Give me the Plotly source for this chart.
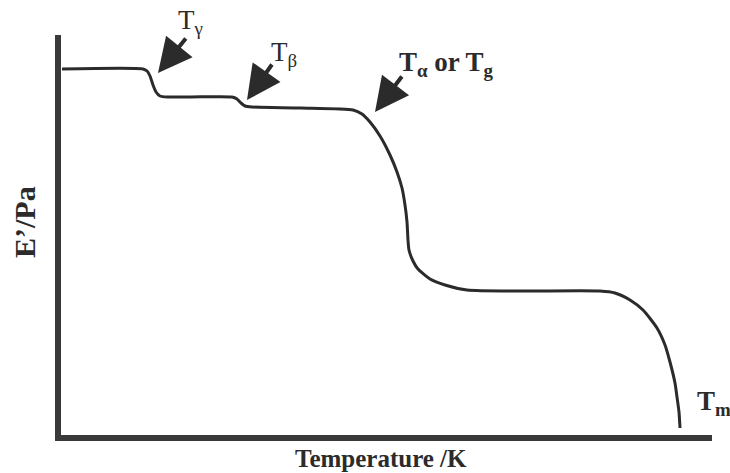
import plotly.graph_objects as go

# Curve (arbitrary temperature units, arbitrary modulus units)
temperature = [1, 82, 86, 89, 92, 95, 99, 107, 130, 171, 176, 180, 184, 191, 240, 292,
               301, 309, 319, 329, 336, 341, 344, 346, 347, 348, 352, 357, 369, 384,
               406, 459, 539, 554, 569, 582, 596, 604, 609, 614, 616, 618, 619]
modulus = [366, 366, 364, 359, 350, 343, 339, 338, 338, 338, 336, 332, 329, 328, 327, 325,
           321, 313, 299, 280, 263, 247, 230, 213, 195, 185, 174, 166, 156, 150,
           145, 144, 144, 142, 135, 125, 107, 90, 73, 52, 38, 23, 7]

# Transition markers: arrow tips and tails
arrow_tip_x = [97, 186, 314]
arrow_tip_y = [362, 335, 323]
arrow_tail_x = [126, 212, 342]
arrow_tail_y = [398, 372, 360]

W, H = 730, 473
L, R, T, B = 61, 18, 35, 38
PW, PH = W - L - R, H - T - B

def px(x):
    return (x - L) / PW

def py(y):
    return (H - B - y) / PH

ink = "#2b2b2b"
serif = "Liberation Serif, Times New Roman, serif"

fig = go.Figure()
fig.add_trace(go.Scatter(
    x=temperature, y=modulus, mode="lines",
    line=dict(color=ink, width=3, shape="spline", smoothing=0.6),
    hoverinfo="skip", showlegend=False,
))

annotations = []
for tx, ty, ax_, ay_ in zip(arrow_tip_x, arrow_tip_y, arrow_tail_x, arrow_tail_y):
    annotations.append(dict(
        x=tx, y=ty, ax=ax_, ay=ay_, xref="x", yref="y", axref="x", ayref="y",
        text="", showarrow=True, arrowhead=2, arrowsize=1.7, arrowwidth=4,
        arrowcolor=ink, standoff=0,
    ))

labels = [
    ("T<sub>γ</sub>", 176, 22, False),
    ("T<sub>β</sub>", 269, 54, False),
    ("<b>T<sub>α</sub> or T<sub>g</sub></b>", 397, 64, True),
    ("<b>T<sub>m</sub></b>", 695, 403, True),
]
for txt, x, y, bold in labels:
    annotations.append(dict(
        x=px(x), y=py(y), xref="paper", yref="paper", text=txt, showarrow=False,
        xanchor="left", yanchor="middle",
        font=dict(family=serif, size=27, color=ink),
    ))

annotations.append(dict(
    x=px(381), y=py(458), xref="paper", yref="paper",
    text="<b>Temperature /K</b>", showarrow=False, xanchor="center", yanchor="middle",
    font=dict(family=serif, size=25, color=ink),
))
annotations.append(dict(
    x=px(24), y=py(222), xref="paper", yref="paper",
    text="<b>E’/Pa</b>", showarrow=False, xanchor="center", yanchor="middle",
    textangle=-90, font=dict(family=serif, size=30, color=ink),
))

fig.update_layout(
    width=W, height=H,
    margin=dict(l=L, r=R, t=T, b=B, pad=0),
    paper_bgcolor="white", plot_bgcolor="white",
    xaxis=dict(range=[0, PW], showgrid=False, zeroline=False, showticklabels=False,
               ticks="", showline=True, linewidth=6, linecolor="#3a3a3a", fixedrange=True),
    yaxis=dict(range=[0, PH], showgrid=False, zeroline=False, showticklabels=False,
               ticks="", showline=True, linewidth=6, linecolor="#3a3a3a", fixedrange=True),
    annotations=annotations,
    showlegend=False,
)

fig.write_html("out.html", config={"displayModeBar": False})
